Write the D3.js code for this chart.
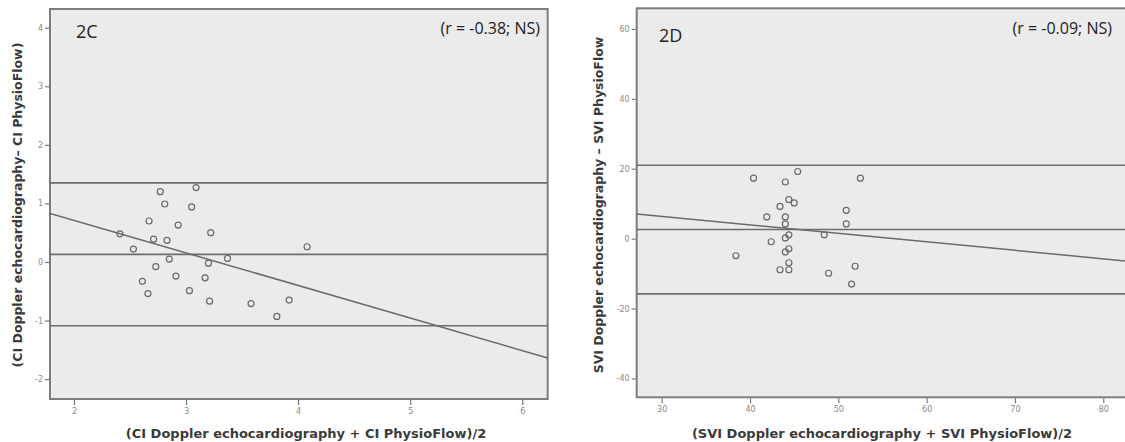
<!DOCTYPE html>
<html>
<head>
<meta charset="utf-8">
<script src="https://cdn.jsdelivr.net/npm/d3@7"></script>
<style>
  body { margin: 0; background: #fff; }
  svg { display: block; }
</style>
</head>
<body>
<svg width="1125" height="442"></svg>
<script>
// 2C: cardiac index, mean vs difference
const ciMean = [2.77, 3.09, 2.81, 3.05, 2.67, 2.93, 2.41, 3.22, 2.71, 2.83, 2.53, 4.08, 2.85,
  3.37, 3.20, 2.73, 2.91, 3.17, 2.61, 2.66, 3.03, 3.21, 3.58, 3.92, 3.81];
const ciDiff = [1.20, 1.27, 0.99, 0.94, 0.70, 0.63, 0.48, 0.50, 0.39, 0.37, 0.22, 0.26, 0.05,
  0.06, -0.02, -0.08, -0.24, -0.27, -0.33, -0.54, -0.49, -0.67, -0.71, -0.65, -0.93];
const ciLimits = [1.35, 0.13, -1.09]; // upper LoA, bias, lower LoA
const ciFit = [1.823, -0.556];        // intercept, slope
const ciXTicks = [2, 3, 4, 5, 6];
const ciYTicks = [-2, -1, 0, 1, 2, 3, 4];

// 2D: stroke volume index
const sviMean = [40.4, 45.4, 44.0, 52.5, 44.4, 45.0, 43.4, 50.9, 41.9, 44.0, 44.0, 50.9, 44.4,
  48.4, 44.0, 42.4, 44.4, 44.0, 38.4, 44.4, 51.9, 43.4, 44.4, 48.9, 51.5];
const sviDiff = [17.3, 19.2, 16.2, 17.3, 11.2, 10.2, 9.2, 8.1, 6.2, 6.2, 4.2, 4.2, 1.1,
  1.1, 0.2, -0.9, -2.9, -3.8, -4.9, -6.9, -7.9, -8.9, -8.9, -9.9, -13.0];
const sviLimits = [21.0, 2.6, -15.8];
const sviFit = [13.67, -0.243];
const sviXTicks = [30, 40, 50, 60, 70, 80];
const sviYTicks = [-40, -20, 0, 20, 40, 60];

const svg = d3.select('svg');

function panel(opt) {
  const x = d3.scaleLinear().domain(opt.xDomain).range([opt.left, opt.right]);
  const y = d3.scaleLinear().domain(opt.yDomain).range([opt.bottom, opt.top]);
  const g = svg.append('g');

  g.append('clipPath').attr('id', opt.id)
    .append('rect')
    .attr('x', opt.left).attr('y', opt.top)
    .attr('width', opt.right - opt.left).attr('height', opt.bottom - opt.top);

  // plot background + frame
  g.append('rect')
    .attr('x', opt.left).attr('y', opt.top)
    .attr('width', opt.frameRight - opt.left).attr('height', opt.bottom - opt.top)
    .attr('fill', '#ebebeb').attr('stroke', '#7d7d7d').attr('stroke-width', 2);

  const inner = g.append('g').attr('clip-path', 'url(#' + opt.id + ')');

  // limits of agreement and bias
  inner.selectAll('line.lim')
    .data(opt.limits)
    .enter().append('line')
    .attr('class', 'lim')
    .attr('x1', opt.left).attr('x2', opt.right)
    .attr('y1', d => y(d)).attr('y2', d => y(d))
    .attr('stroke', '#6e6e6e').attr('stroke-width', 1.6);

  // regression line
  const xd = x.domain();
  inner.append('line')
    .attr('x1', x(xd[0])).attr('y1', y(opt.fit[0] + opt.fit[1] * xd[0]))
    .attr('x2', x(xd[1])).attr('y2', y(opt.fit[0] + opt.fit[1] * xd[1]))
    .attr('stroke', '#6a6a6a').attr('stroke-width', 1.5);

  // points
  inner.selectAll('circle')
    .data(opt.xs)
    .enter().append('circle')
    .attr('cx', d => x(d))
    .attr('cy', (d, i) => y(opt.ys[i]))
    .attr('r', 3)
    .attr('fill', 'none')
    .attr('stroke', '#6a6a6a')
    .attr('stroke-width', 1.2);

  // axes
  const ya = g.append('g')
    .attr('transform', 'translate(' + (opt.left - 1) + ',0)')
    .call(d3.axisLeft(y).tickValues(opt.yTicks).tickFormat(d => d).tickSize(4).tickPadding(2));
  const xa = g.append('g')
    .attr('transform', 'translate(0,' + (opt.bottom + 1) + ')')
    .call(d3.axisBottom(x).tickValues(opt.xTicks).tickFormat(d => d).tickSize(5).tickPadding(3));
  [ya, xa].forEach(a => {
    a.select('.domain').remove();
    a.selectAll('line').attr('stroke', '#777').attr('stroke-width', 1.2);
    a.selectAll('text').attr('fill', '#888')
      .style('font-family', 'DejaVu Sans, sans-serif').style('font-size', '8px');
  });

  // labels
  g.append('text')
    .attr('x', opt.tagX).attr('y', opt.tagY)
    .style('font-family', 'Open Sans, sans-serif').style('font-size', '18px')
    .attr('fill', '#222')
    .text(opt.tag);
  g.append('text')
    .attr('x', opt.rX).attr('y', 34)
    .attr('text-anchor', 'end')
    .style('font-family', 'Open Sans, sans-serif').style('font-size', '16px')
    .attr('fill', '#222')
    .text(opt.rText);
  g.append('text')
    .attr('x', opt.xLabelX).attr('y', 438)
    .attr('text-anchor', 'middle')
    .style('font-family', 'DejaVu Sans, sans-serif').style('font-size', '13px')
    .style('font-weight', 'bold').attr('fill', '#3a3a3a')
    .text(opt.xLabel);
  g.append('text')
    .attr('transform', 'translate(' + opt.yLabelX + ',205) rotate(-90)')
    .attr('text-anchor', 'middle')
    .style('font-family', 'DejaVu Sans, sans-serif').style('font-size', '12.5px')
    .style('font-weight', 'bold').attr('fill', '#3a3a3a')
    .text(opt.yLabel);
}

panel({
  id: 'clipC', left: 50, right: 547.7, frameRight: 547.7, top: 9, bottom: 399,
  xDomain: [1.786, 6.227], yDomain: [-2.34, 4.32],
  xs: ciMean, ys: ciDiff, limits: ciLimits, fit: ciFit,
  xTicks: ciXTicks, yTicks: ciYTicks,
  tag: '2C', tagX: 76, tagY: 38, rText: '(r = -0.38; NS)', rX: 540,
  xLabel: '(CI Doppler echocardiography + CI PhysioFlow)/2', xLabelX: 306,
  yLabel: '(CI Doppler echocardiography\u2013 CI PhysioFlow)', yLabelX: 22
});

panel({
  id: 'clipD', left: 636.7, right: 1125, frameRight: 1132, top: 8.3, bottom: 397.3,
  xDomain: [27.17, 82.46], yDomain: [-45.4, 65.9],
  xs: sviMean, ys: sviDiff, limits: sviLimits, fit: sviFit,
  xTicks: sviXTicks, yTicks: sviYTicks,
  tag: '2D', tagX: 659, tagY: 42, rText: '(r = -0.09; NS)', rX: 1112,
  xLabel: '(SVI Doppler echocardiography + SVI PhysioFlow)/2', xLabelX: 882,
  yLabel: 'SVI Doppler echocardiography  \u2013 SVI PhysioFlow', yLabelX: 603
});
</script>
</body>
</html>
